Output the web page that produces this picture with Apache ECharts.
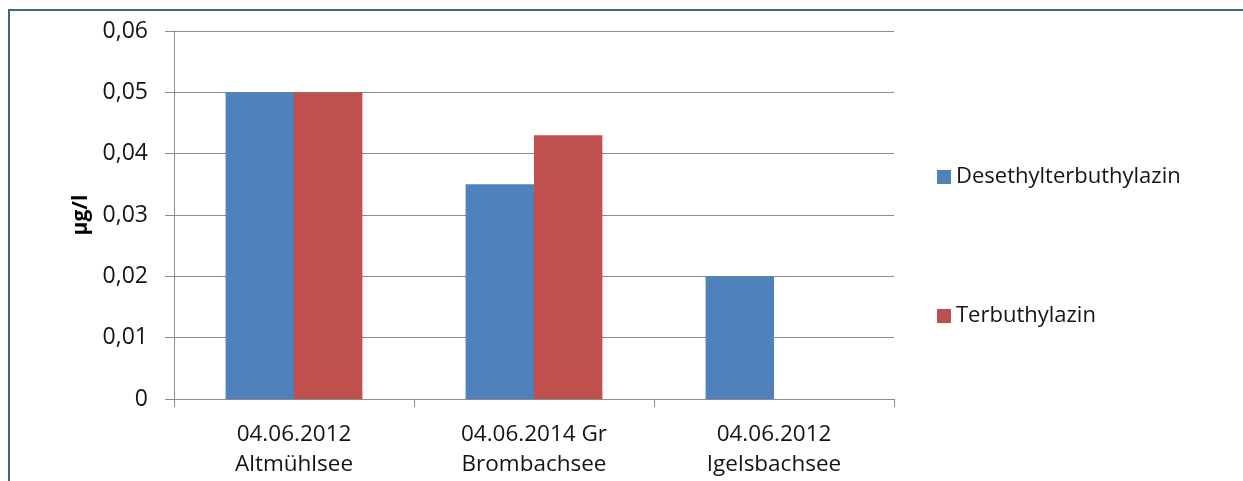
<!DOCTYPE html>
<html>
<head>
<meta charset="utf-8">
<script src="https://cdn.jsdelivr.net/npm/echarts@6/dist/echarts.min.js"></script>
<style>
  html, body { margin: 0; padding: 0; background: #ffffff; }
  #chart { width: 1243px; height: 481px; }
</style>
</head>
<body>
<div id="chart"></div>
<script>
// Sampling sites (date + lake)
const categories = [
  '04.06.2012\nAltmühlsee',
  '04.06.2014 Gr\nBrombachsee',
  '04.06.2012\nIgelsbachsee'
];
// Concentrations in µg/l
const desethylterbuthylazin = [0.05, 0.035, 0.02];
const terbuthylazin = [0.05, 0.043, null];
const seriesNames = ['Desethylterbuthylazin', 'Terbuthylazin'];
const yTicks = [0, 0.01, 0.02, 0.03, 0.04, 0.05, 0.06];

const FONT = '"Open Sans", "Noto Sans", sans-serif';
const GRID = '#8c8c8c';
const TEXT = '#141414';

const chart = echarts.init(document.getElementById('chart'), null, { renderer: 'canvas' });

chart.setOption({
  backgroundColor: '#ffffff',
  animation: false,
  graphic: [{
    type: 'rect',
    shape: { x: 9, y: 10, width: 1400, height: 700 },
    style: { fill: 'none', stroke: '#3b6a80', lineWidth: 2 },
    silent: true
  }],
  grid: { left: 174, right: 349, top: 31, bottom: 82, containLabel: false },
  legend: {
    orient: 'vertical',
    left: 932,
    top: 158,
    itemWidth: 14,
    itemHeight: 14,
    itemGap: 111,
    icon: 'rect',
    textStyle: { fontFamily: FONT, fontSize: 22, color: TEXT, lineHeight: 28, padding: [0, 0, 0, 0] },
    data: seriesNames
  },
  xAxis: {
    type: 'category',
    data: categories,
    axisLine: { lineStyle: { color: GRID, width: 1 } },
    axisTick: { show: true, length: 8, lineStyle: { color: GRID } },
    axisLabel: {
      fontFamily: FONT, fontSize: 22.5, color: TEXT,
      lineHeight: 30, margin: 21, interval: 0
    }
  },
  yAxis: {
    type: 'value',
    min: 0,
    max: 0.06,
    interval: 0.01,
    name: 'µg/l',
    nameLocation: 'middle',
    nameGap: 66,
    nameRotate: 90,
    nameTextStyle: { fontFamily: FONT, fontSize: 21, fontWeight: 'bold', color: '#000000' },
    axisLine: { show: true, lineStyle: { color: GRID, width: 1 } },
    axisTick: { show: true, length: 9, inside: false, lineStyle: { color: GRID } },
    splitLine: { show: true, lineStyle: { color: GRID, width: 1 } },
    axisLabel: {
      fontFamily: FONT, fontSize: 23, color: TEXT, margin: 26,
      formatter: function (v) {
        const t = yTicks.find(function (k) { return Math.abs(k - v) < 1e-9; });
        const val = t === undefined ? v : t;
        return val === 0 ? '0' : val.toFixed(2).replace('.', ',');
      }
    }
  },
  series: [
    {
      name: seriesNames[0],
      type: 'bar',
      data: desethylterbuthylazin,
      itemStyle: { color: '#4f81bd' },
      barGap: '0%',
      barCategoryGap: '43%'
    },
    {
      name: seriesNames[1],
      type: 'bar',
      data: terbuthylazin,
      itemStyle: { color: '#c0504d' },
      barGap: '0%',
      barCategoryGap: '43%'
    }
  ]
});
</script>
</body>
</html>
